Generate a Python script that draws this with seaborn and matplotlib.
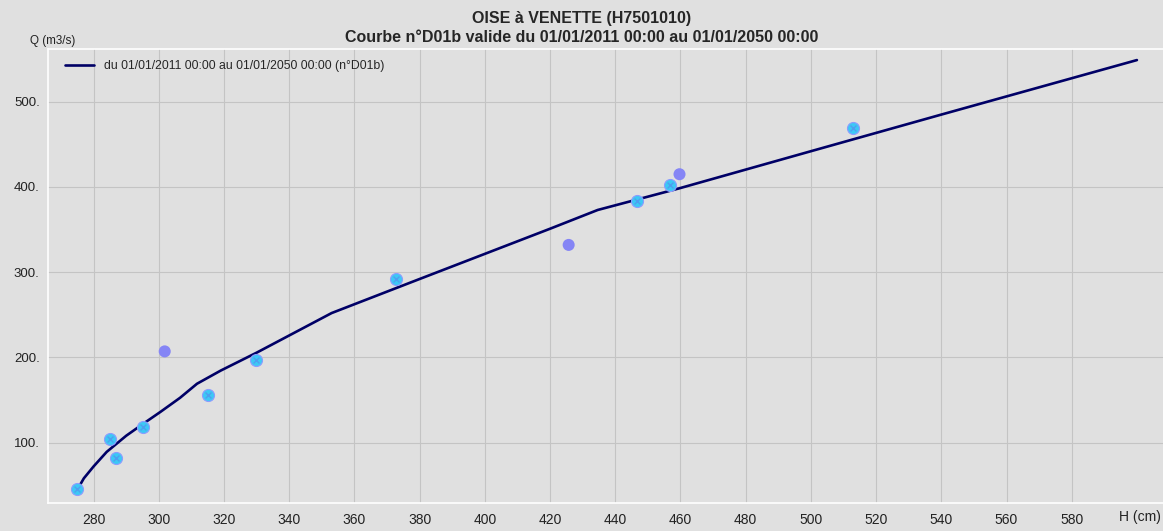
import numpy as np
import pandas as pd
import seaborn as sns
import matplotlib.pyplot as plt

# rating curve (H in cm, Q in m3/s)
curve_h = [274.5, 277, 280, 284, 290, 295, 300.5, 306.5, 311.7, 319, 330, 353, 380, 420, 434.6, 459.7, 500, 540, 600]
curve_q = [41.5, 58, 72, 89, 108, 121.5, 136, 152.5, 169, 184.5, 205.5, 252, 292, 351, 373, 398.5, 442, 485, 549]

# gaugings
gaug_h = [274.8, 284.9, 287, 295.1, 315, 329.9, 372.8, 446.7, 456.7, 512.8]
gaug_q = [46, 104.5, 81.5, 118, 155.5, 196.5, 292, 384, 402, 469]
other_h = [301.8, 425.7, 459.7]
other_q = [207, 332, 415]

x_ticks = [280, 300, 320, 340, 360, 380, 400, 420, 440, 460, 480, 500, 520, 540, 560, 580]
y_ticks = [100, 200, 300, 400, 500]
y_labels = ["100.", "200.", "300.", "400.", "500."]

title1 = "OISE à VENETTE (H7501010)"
title2 = "Courbe n°D01b valide du 01/01/2011 00:00 au 01/01/2050 00:00"
legend_label = "du 01/01/2011 00:00 au 01/01/2050 00:00 (n°D01b)"

curve = pd.DataFrame({"H": curve_h, "Q": curve_q})
gaug = pd.DataFrame({"H": gaug_h, "Q": gaug_q})
other = pd.DataFrame({"H": other_h, "Q": other_q})

sns.set_style("whitegrid")
plt.rcParams["font.family"] = ["Liberation Sans", "DejaVu Sans"]

bg = "#e0e0e0"
fig = plt.figure(figsize=(11.63, 5.31), dpi=100, facecolor=bg)
ax = fig.add_axes([48 / 1163, 1 - 503 / 531, (1163 - 48) / 1163, (503 - 49) / 531])
ax.set_facecolor(bg)

sns.lineplot(data=curve, x="H", y="Q", ax=ax, color="#000066", lw=1.9,
             label=legend_label, sort=False, estimator=None, zorder=3)
sns.scatterplot(data=other, x="H", y="Q", ax=ax, color="#8585f5", s=75,
                edgecolor="none", zorder=4, legend=False)
sns.scatterplot(data=gaug, x="H", y="Q", ax=ax, color="#3cc8f5", s=75,
                edgecolor="#8c9cff", linewidth=0.8, zorder=4, legend=False)
sns.scatterplot(data=gaug, x="H", y="Q", ax=ax, color="#4f9ef0", s=18, marker="x",
                linewidth=1.0, zorder=5, legend=False)

ax.set_xlim(266, 608)
ax.set_ylim(29, 562)
ax.set_xticks(x_ticks)
ax.set_yticks(y_ticks)
ax.set_yticklabels(y_labels)
ax.grid(True, color="#c4c4c4", lw=0.8)
ax.set_xlabel("")
ax.set_ylabel("")
ax.tick_params(axis="x", length=0, pad=7, labelsize=10, labelcolor="#222222")
ax.tick_params(axis="y", length=4, width=0.8, color="#444444", pad=2, labelsize=9.5, labelcolor="#222222")
for side, sp in ax.spines.items():
    sp.set_color("white")
    sp.set_linewidth(1.2)
ax.spines["right"].set_visible(False)

leg = ax.legend(loc="upper left", frameon=False, fontsize=8.8, handlelength=2.4,
                handletextpad=0.8, borderaxespad=0.5, bbox_to_anchor=(0.005, 1.0))

fig.text(582 / 1163, 1 - 18 / 531, title1, ha="center", va="center",
         fontsize=11.5, fontweight="bold")
fig.text(582 / 1163, 1 - 38 / 531, title2, ha="center", va="center",
         fontsize=11.5, fontweight="bold")
fig.text(30 / 1163, 1 - 41 / 531, "Q (m3/s)", ha="left", va="center", fontsize=8.4, color="#222222")
fig.text(1161 / 1163, 1 - 517 / 531, "H (cm)", ha="right", va="center", fontsize=10, color="#222222")

fig.savefig("out.png", dpi=100, facecolor=bg)
